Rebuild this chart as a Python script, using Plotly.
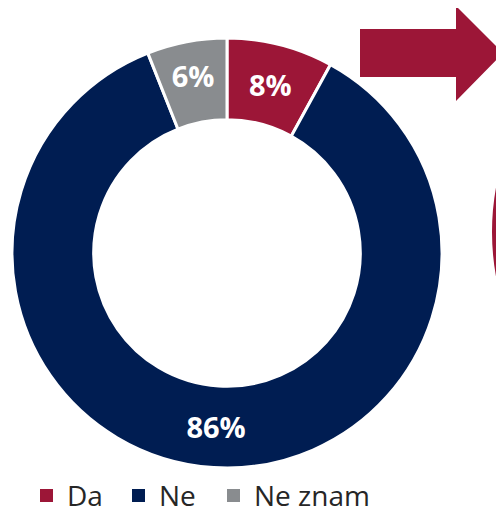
import plotly.graph_objects as go

# data
categories = ["Da", "Ne", "Ne znam"]
shares = [8, 86, 6]
colors = ["#9C1637", "#001D52", "#898C8F"]

W, H = 504, 508
OFF = 8  # page body margin of the html page
font = "Open Sans"

fig = go.Figure()

# donut (page pixels -> paper fractions, accounting for body margin)
fig.add_trace(go.Pie(
    labels=categories,
    values=shares,
    sort=False,
    direction="clockwise",
    rotation=0,
    hole=0.62,
    marker=dict(colors=colors, line=dict(color="white", width=3)),
    texttemplate="%{value}%",
    textposition="inside",
    insidetextorientation="horizontal",
    textfont=dict(family=font, size=29, color="white", weight="bold"),
    domain=dict(x=[(12 - OFF) / W, (442 - OFF) / W],
                y=[1 - (468 - OFF) / H, 1 - (38 - OFF) / H]),
    showlegend=False,
    hoverinfo="skip",
))

# invisible trace so the pixel-space axes exist
fig.add_trace(go.Scatter(x=[OFF], y=[OFF], mode="markers", marker=dict(opacity=0),
                         showlegend=False, hoverinfo="skip"))

crimson = colors[0]

# arrow pointing right (cut off at the edge)
fig.add_shape(type="path",
              path="M 360 29 L 456 29 L 456 6 L 503 53 L 456 101 L 456 77 L 360 77 Z",
              fillcolor=crimson, line=dict(width=0))

# partial circle outline at right edge
fig.add_shape(type="circle", x0=495, x1=983, y0=-12, y1=476,
              line=dict(color=crimson, width=6))

# legend built manually
legend_x = [40, 132, 227]
for cat, col, lx in zip(categories, colors, legend_x):
    fig.add_shape(type="rect", x0=lx, x1=lx + 13, y0=489, y1=502,
                  fillcolor=col, line=dict(width=0))
    fig.add_annotation(x=lx + 25, y=495, text=cat, showarrow=False,
                       xanchor="left", yanchor="middle",
                       font=dict(family=font, size=28, color="#262626"))

fig.update_layout(
    width=W, height=H,
    margin=dict(l=0, r=0, t=0, b=0),
    paper_bgcolor="white",
    plot_bgcolor="rgba(0,0,0,0)",
    xaxis=dict(range=[OFF, W + OFF], visible=False, fixedrange=True),
    yaxis=dict(range=[H + OFF, OFF], visible=False, fixedrange=True),
)

fig.write_html("out.html")
